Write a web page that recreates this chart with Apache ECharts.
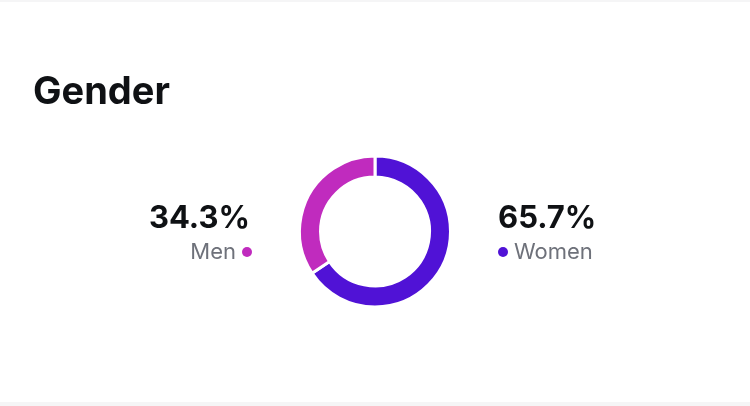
<!DOCTYPE html>
<html>
<head>
<meta charset="utf-8">
<script src="https://cdn.jsdelivr.net/npm/echarts@6/dist/echarts.min.js"></script>
<style>
html,body{margin:0;padding:0;background:#f5f5f6;}
#chart{position:absolute;left:0;top:2px;width:750px;height:400px;background:#ffffff;}
</style>
</head>
<body>
<div id="chart"></div>
<script>
const title = "Gender";
const categories = ["Women", "Men"];
const values = [65.7, 34.3];
const colors = ["#5012d6", "#c02bbe"];

const chart = echarts.init(document.getElementById('chart'), null, {renderer: 'canvas'});
const FONT = 'Inter, "Liberation Sans", sans-serif';
const fmt = v => v.toFixed(1) + '%';

const option = {
  animation: false,
  series: [{
    type: 'pie',
    center: [375, 229.5],
    radius: [54.5, 75.5],
    startAngle: 90,
    clockwise: true,
    label: {show: false},
    labelLine: {show: false},
    emphasis: {disabled: true},
    itemStyle: {borderColor: '#ffffff', borderWidth: 3},
    data: categories.map((c, i) => ({name: c, value: values[i], itemStyle: {color: colors[i]}}))
  }],
  graphic: [
    {type: 'text', left: 33, top: 72, style: {text: title, font: 'bold 38px ' + FONT, fill: '#0f1114'}},
    {type: 'text', x: 250, y: 217, style: {text: fmt(values[1]), font: 'bold 31px ' + FONT, fill: '#0f1114', align: 'right', verticalAlign: 'middle'}},
    {type: 'text', x: 236, y: 250.5, style: {text: categories[1], font: '22px ' + FONT, fill: '#6e717a', align: 'right', verticalAlign: 'middle'}},
    {type: 'circle', shape: {cx: 247, cy: 250, r: 5}, style: {fill: colors[1]}},
    {type: 'text', x: 498, y: 217, style: {text: fmt(values[0]), font: 'bold 31px ' + FONT, fill: '#0f1114', align: 'left', verticalAlign: 'middle'}},
    {type: 'circle', shape: {cx: 503, cy: 250, r: 5}, style: {fill: colors[0]}},
    {type: 'text', x: 514, y: 250.5, style: {text: categories[0], font: '22px ' + FONT, fill: '#6e717a', align: 'left', verticalAlign: 'middle'}}
  ]
};
chart.setOption(option);
</script>
</body>
</html>
